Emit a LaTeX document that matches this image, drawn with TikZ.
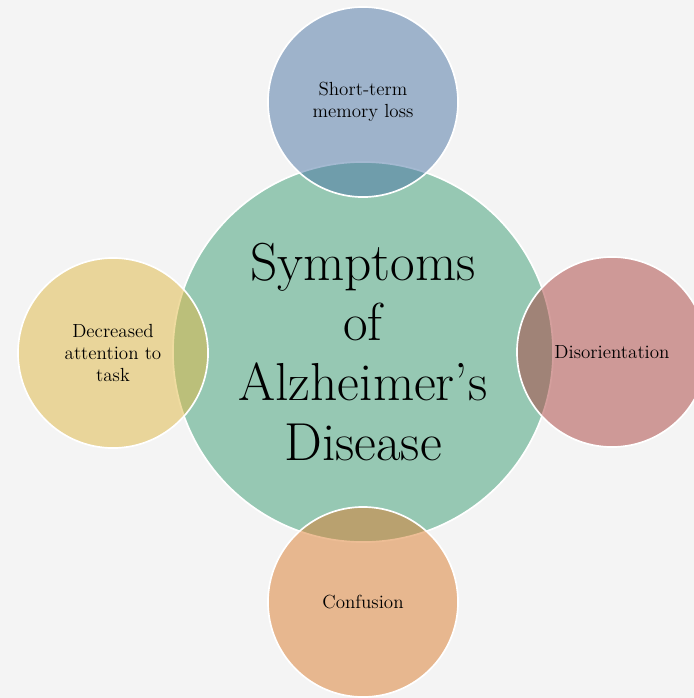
\documentclass[tikz,border=0pt]{standalone}
\usepackage{xcolor}
\usepackage{tikz}

\definecolor{paper}{RGB}{244,244,244}
\definecolor{hubgreen}{RGB}{150,200,179}
\definecolor{memblue}{RGB}{74,116,164}
\definecolor{disred}{RGB}{170,64,60}
\definecolor{attyellow}{RGB}{224,184,66}
\definecolor{confor}{RGB}{220,124,44}

\begin{document}
\begin{tikzpicture}[
    x=0.025cm, y=-0.025cm,
    hub/.style={circle, draw=white, line width=1.2pt, fill=hubgreen, minimum size=9.5cm, inner sep=0pt, align=center, font=\fontsize{38}{42.5}\selectfont},
    symptom/.style={circle, draw=white, line width=1.2pt, fill opacity=0.5, draw opacity=1, text opacity=1, minimum size=4.75cm, inner sep=0pt, align=center, font=\fontsize{13.5}{15.5}\selectfont}
]
    \useasboundingbox (0,0) rectangle (694,698);
    \clip (0,0) rectangle (694,698);
    \fill[paper] (0,0) rectangle (694,698);

    \node[hub] (core) at (363,352) {Symptoms\\of\\Alzheimer's\\Disease};

    \node[symptom, fill=memblue] (memory) at (363,102) {Short-term\\memory loss};
    \node[symptom, fill=disred] (disor) at (612,352) {Disorientation};
    \node[symptom, fill=confor] (confus) at (363,602) {Confusion};
    \node[symptom, fill=attyellow] (attent) at (113,353) {Decreased\\attention to\\task};
\end{tikzpicture}
\end{document}
